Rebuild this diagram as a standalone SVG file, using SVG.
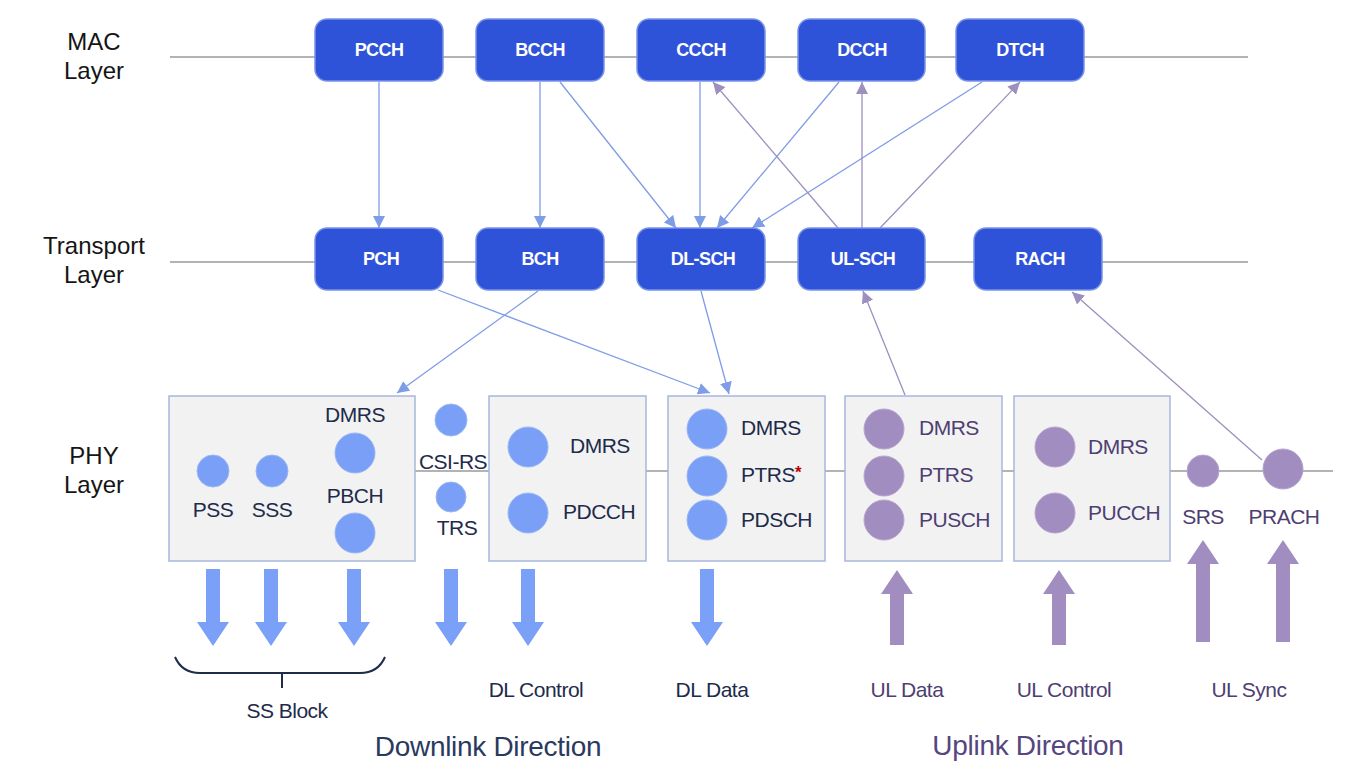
<svg xmlns="http://www.w3.org/2000/svg" xmlns:xlink="http://www.w3.org/1999/xlink" width="1361" height="774" viewBox="0 0 1361 774">
<style>
.layer{font-family:"Liberation Sans",Arial,sans-serif;font-size:24px;fill:#151515;text-anchor:middle}
.ch{fill:#2F53D8;stroke:#7A93E6;stroke-width:1.5}
.cht{font-family:"Liberation Sans",Arial,sans-serif;font-size:18px;font-weight:bold;fill:#fff;text-anchor:middle;dominant-baseline:central;letter-spacing:-0.6px}
.hl{stroke:#B3B3B3;stroke-width:2;fill:none}
.pbox{fill:#F2F2F2;stroke:#A7B7DE;stroke-width:1.5}
.bc{fill:#79A0F6;stroke:#9BB6F4;stroke-width:1}
.pc{fill:#A28DC1;stroke:#B6A5CF;stroke-width:1}
.dt{font-family:"Liberation Sans",Arial,sans-serif;font-size:21px;fill:#1E2B4B;letter-spacing:-0.5px}
.ut{font-family:"Liberation Sans",Arial,sans-serif;font-size:21px;fill:#4E3E72;letter-spacing:-0.5px}
.mid{text-anchor:middle}
.lb{font-family:"Liberation Sans",Arial,sans-serif;font-size:21px;text-anchor:middle;letter-spacing:-0.5px}
.dir{font-family:"Liberation Sans",Arial,sans-serif;font-size:28px;text-anchor:middle;letter-spacing:-0.3px}
.cb{stroke:#7F9CE6;stroke-width:1.3;fill:none;marker-end:url(#mb)}
.cp{stroke:#9D90BE;stroke-width:1.3;fill:none;marker-end:url(#mp)}
</style>
<defs>
<marker id="mb" viewBox="0 0 12 12" refX="12" refY="6" markerWidth="12" markerHeight="12" markerUnits="userSpaceOnUse" orient="auto"><path d="M0,0 L12,6 L0,12 Z" fill="#7F9CE6"/></marker>
<marker id="mp" viewBox="0 0 12 12" refX="12" refY="6" markerWidth="12" markerHeight="12" markerUnits="userSpaceOnUse" orient="auto"><path d="M0,0 L12,6 L0,12 Z" fill="#9D90BE"/></marker>
<path id="dla" d="M-7,569 L7,569 L7,622 L16,622 L0,646 L-16,622 L-7,622 Z" fill="#7AA0F7"/>
<path id="ula" d="M-7,645 L7,645 L7,594 L16,594 L0,570 L-16,594 L-7,594 Z" fill="#A28DC1"/>
<path id="usa" d="M-7,642 L7,642 L7,564 L16,564 L0,540 L-16,564 L-7,564 Z" fill="#A28DC1"/>
</defs>
<rect width="1361" height="774" fill="#fff"/>

<g id="layer-labels">
<text class="layer" x="94" y="50">MAC</text>
<text class="layer" x="94" y="79">Layer</text>
<text class="layer" x="94" y="254">Transport</text>
<text class="layer" x="94" y="283">Layer</text>
<text class="layer" x="94" y="464">PHY</text>
<text class="layer" x="94" y="493">Layer</text>
</g>

<g id="layer-lines">
<line class="hl" x1="170" y1="57" x2="1248" y2="57"/>
<line class="hl" x1="170" y1="262" x2="1248" y2="262"/>
<line class="hl" x1="415" y1="471" x2="1333" y2="471"/>
</g>

<g id="connectors">
<path class="cb" d="M379,82 L379,228"/>
<path class="cb" d="M540,82 L540,228"/>
<path class="cb" d="M560,82 L676,228"/>
<path class="cb" d="M700,82 L700,228"/>
<path class="cb" d="M839,82 L717,228"/>
<path class="cb" d="M982,82 L752,228"/>
<path class="cb" d="M438,290 L710,393"/>
<path class="cb" d="M538,291 L397,393"/>
<path class="cb" d="M701,291 L729,394"/>
<path class="cp" d="M838,228 L713,82"/>
<path class="cp" d="M862,228 L862,82"/>
<path class="cp" d="M880,228 L1020,82"/>
<path class="cp" d="M905,395 L863,291"/>
<path class="cp" d="M1262,460 L1072,292"/>
</g>

<g id="PCCH"><rect class="ch" x="315" y="19" width="128" height="62" rx="12"/><text class="cht" x="379" y="50">PCCH</text></g>
<g id="BCCH"><rect class="ch" x="476" y="19" width="128" height="62" rx="12"/><text class="cht" x="540" y="50">BCCH</text></g>
<g id="CCCH"><rect class="ch" x="637" y="19" width="128" height="62" rx="12"/><text class="cht" x="701" y="50">CCCH</text></g>
<g id="DCCH"><rect class="ch" x="798" y="19" width="127" height="62" rx="12"/><text class="cht" x="862" y="50">DCCH</text></g>
<g id="DTCH"><rect class="ch" x="956" y="19" width="128" height="62" rx="12"/><text class="cht" x="1020" y="50">DTCH</text></g>

<g id="PCH"><rect class="ch" x="315" y="228" width="128" height="62" rx="12"/><text class="cht" x="381" y="259">PCH</text></g>
<g id="BCH"><rect class="ch" x="476" y="228" width="128" height="62" rx="12"/><text class="cht" x="540" y="259">BCH</text></g>
<g id="DL-SCH"><rect class="ch" x="637" y="228" width="128" height="62" rx="12"/><text class="cht" x="703" y="259">DL-SCH</text></g>
<g id="UL-SCH"><rect class="ch" x="798" y="228" width="127" height="62" rx="12"/><text class="cht" x="863" y="259">UL-SCH</text></g>
<g id="RACH"><rect class="ch" x="974" y="228" width="128" height="62" rx="12"/><text class="cht" x="1040" y="259">RACH</text></g>

<g id="ss-block">
<rect class="pbox" x="169" y="396" width="246" height="165"/>
<circle class="bc" cx="213" cy="471" r="16"/>
<circle class="bc" cx="272" cy="471" r="16"/>
<circle class="bc" cx="355" cy="453" r="20"/>
<circle class="bc" cx="355" cy="533" r="20"/>
<text class="dt mid" x="355" y="422">DMRS</text>
<text class="dt mid" x="355" y="503">PBCH</text>
<text class="dt mid" x="213" y="517">PSS</text>
<text class="dt mid" x="272" y="517">SSS</text>
</g>

<g id="csi-trs">
<circle class="bc" cx="451" cy="420" r="16"/>
<text class="dt mid" x="453" y="469">CSI-RS</text>
<circle class="bc" cx="451" cy="497" r="15"/>
<text class="dt mid" x="457" y="535">TRS</text>
</g>

<g id="dl-control">
<rect class="pbox" x="489" y="396" width="157" height="165"/>
<circle class="bc" cx="528" cy="447" r="20"/>
<circle class="bc" cx="528" cy="513" r="20"/>
<text class="dt" x="570" y="453">DMRS</text>
<text class="dt" x="563" y="519">PDCCH</text>
</g>

<g id="dl-data">
<rect class="pbox" x="668" y="396" width="157" height="165"/>
<circle class="bc" cx="707" cy="429" r="20"/>
<circle class="bc" cx="707" cy="476" r="20"/>
<circle class="bc" cx="707" cy="520" r="20"/>
<text class="dt" x="741" y="435">DMRS</text>
<text class="dt" x="741" y="482">PTRS<tspan fill="#C00000" font-weight="bold" font-size="17" dy="-4">*</tspan></text>
<text class="dt" x="741" y="527">PDSCH</text>
</g>

<g id="ul-data">
<rect class="pbox" x="845" y="396" width="157" height="165"/>
<circle class="pc" cx="884" cy="429" r="20"/>
<circle class="pc" cx="884" cy="476" r="20"/>
<circle class="pc" cx="884" cy="520" r="20"/>
<text class="ut" x="919" y="435">DMRS</text>
<text class="ut" x="919" y="482">PTRS</text>
<text class="ut" x="919" y="527">PUSCH</text>
</g>

<g id="ul-control">
<rect class="pbox" x="1014" y="396" width="156" height="165"/>
<circle class="pc" cx="1055" cy="447" r="20"/>
<circle class="pc" cx="1055" cy="513" r="20"/>
<text class="ut" x="1088" y="454">DMRS</text>
<text class="ut" x="1088" y="520">PUCCH</text>
</g>

<g id="ul-sync">
<circle class="pc" cx="1203" cy="471" r="16"/>
<circle class="pc" cx="1283" cy="469" r="20"/>
<text class="ut mid" x="1203" y="524">SRS</text>
<text class="ut mid" x="1284" y="524">PRACH</text>
</g>

<g id="direction-arrows">
<use xlink:href="#dla" x="213"/>
<use xlink:href="#dla" x="271"/>
<use xlink:href="#dla" x="354"/>
<use xlink:href="#dla" x="451"/>
<use xlink:href="#dla" x="528"/>
<use xlink:href="#dla" x="707"/>
<use xlink:href="#ula" x="897"/>
<use xlink:href="#ula" x="1059"/>
<use xlink:href="#usa" x="1203"/>
<use xlink:href="#usa" x="1283"/>
</g>

<g id="ss-brace">
<path d="M175,657 Q182,673 200,673 L360,673 Q378,673 385,657 M282,673 L282,688" fill="none" stroke="#1E2B4B" stroke-width="2"/>
</g>

<g id="bottom-labels">
<text class="lb" x="287" y="718" fill="#1E2B4B">SS Block</text>
<text class="lb" x="536" y="697" fill="#1E2B4B">DL Control</text>
<text class="lb" x="712" y="697" fill="#1E2B4B">DL Data</text>
<text class="lb" x="907" y="697" fill="#4E3E72">UL Data</text>
<text class="lb" x="1064" y="697" fill="#4E3E72">UL Control</text>
<text class="lb" x="1249" y="697" fill="#4E3E72">UL Sync</text>
<text class="dir" x="488" y="756" fill="#2A3A5E">Downlink Direction</text>
<text class="dir" x="1028" y="755" fill="#56467E">Uplink Direction</text>
</g>
</svg>
